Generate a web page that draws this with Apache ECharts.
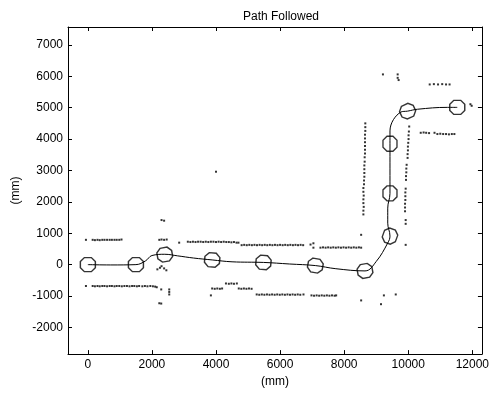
<!DOCTYPE html>
<html>
<head>
<meta charset="utf-8">
<script src="https://cdn.jsdelivr.net/npm/echarts@6/dist/echarts.min.js"></script>
<style>
html, body { margin: 0; padding: 0; background: #fff; }
#chart { width: 492px; height: 393px; }
</style>
</head>
<body>
<div id="chart"></div>
<script>
// tick labels
var xTicks = [0, 2000, 4000, 6000, 8000, 10000, 12000];
var yTicks = [-2000, -1000, 0, 1000, 2000, 3000, 4000, 5000, 6000, 7000];

// path followed (x, y in mm)
var pathLine = [
    [0, 0], [700, -10], [1500, 0], [1800, 120], [2000, 290], [2400, 330], [2800, 280],
    [3300, 210], [3880, 150], [4500, 90], [5480, 70], [6300, 20], [7100, -30],
    [7740, -130], [8650, -200], [9000, 100], [9360, 690], [9430, 910], [9360, 1320],
    [9360, 1800], [9430, 2270], [9430, 3050], [9430, 3850], [9430, 4260], [9770, 4860],
    [9980, 4890], [10290, 4950], [11220, 5010], [11530, 5010]
];

// robot poses: x, y, heading (deg)
var robots = [
    [0, 0, 0], [1500, 0, 0], [2400, 320, 10], [3880, 150, -5], [5480, 70, -5],
    [7100, -30, -10], [8650, -200, 10], [9430, 910, 70], [9430, 2270, 90],
    [9430, 3850, 90], [9980, 4890, 25], [11530, 5010, 0]
];

// sensor readings
var wallTop = [
    [-60, 790], [150, 790], [220, 780], [300, 790], [370, 780], [450, 790], [520, 790],
    [600, 790], [680, 790], [750, 790], [830, 790], [900, 790], [980, 790], [1050, 800],
    [2230, 790], [2300, 800], [2380, 790], [2460, 800], [2300, 1420], [2380, 1400],
    [2850, 700],
    [3120, 730], [3200, 720], [3280, 730], [3360, 720], [3440, 730], [3520, 730], [3600, 720],
    [3680, 730], [3760, 720], [3840, 730], [3920, 730], [4000, 720], [4080, 730], [4160, 720],
    [4240, 730], [4320, 720], [4400, 720], [4480, 710], [4560, 720], [4640, 700], [4700, 700],
    [4800, 620], [4880, 630], [4960, 620], [5040, 630], [5120, 620], [5200, 630], [5280, 620],
    [5360, 630], [5440, 620], [5520, 630], [5600, 620], [5680, 630], [5760, 620], [5840, 630],
    [5920, 620], [6000, 630], [6080, 620], [6160, 630], [6240, 620], [6320, 630], [6400, 620],
    [6480, 630], [6560, 620], [6640, 630], [6720, 620],
    [6950, 640], [7040, 540], [7040, 680],
    [7260, 540], [7340, 550], [7420, 540], [7500, 550], [7580, 540], [7660, 550], [7740, 540],
    [7820, 550], [7900, 540], [7980, 550], [8060, 540], [8140, 550], [8220, 540], [8300, 550],
    [8380, 540], [8460, 550], [8530, 540], [8530, 950]
];

var wallBottom = [
    [-60, -680], [150, -680], [220, -690], [300, -680], [370, -690], [450, -680], [520, -680],
    [600, -690], [680, -680], [750, -680], [830, -690], [900, -680], [980, -680], [1060, -690],
    [1140, -680], [1220, -680], [1300, -690], [1380, -680], [1450, -680], [1530, -690],
    [1600, -680], [1700, -690], [1780, -680], [1860, -690], [1950, -680], [2030, -690],
    [2100, -700], [2150, -720],
    [2290, -790], [2540, -790], [2540, -870], [2540, -950], [2230, -1230], [2290, -1240],
    [2170, -150], [2250, -100], [2300, -50], [2380, -120], [2450, -180],
    [3840, -980], [3880, -760], [3960, -770], [4040, -760], [4120, -770], [4190, -760],
    [4310, -600], [4400, -610], [4480, -600], [4560, -610], [4650, -600],
    [4710, -760], [4790, -770], [4870, -760], [4950, -770], [5030, -760], [5110, -770],
    [5270, -950], [5350, -960], [5430, -950], [5510, -960], [5590, -950], [5670, -960],
    [5750, -950], [5830, -960], [5910, -950], [5990, -960], [6070, -950], [6150, -960],
    [6230, -950], [6310, -960], [6390, -950], [6470, -960], [6550, -950], [6630, -960],
    [6730, -950],
    [6980, -980], [7060, -990], [7140, -980], [7220, -990], [7300, -980], [7380, -990],
    [7460, -980], [7540, -990], [7620, -980], [7700, -990], [7750, -980],
    [8530, -1140], [9150, -1260], [9240, -980], [9610, -950], [4000, 2960]
];

var wallVertical = [
    [8600, 1600], [8600, 1720], [8610, 1840], [8600, 1960], [8600, 2080], [8610, 2200],
    [8600, 2320], [8600, 2440], [8620, 2560], [8620, 2680], [8630, 2800], [8630, 2920],
    [8630, 3040], [8630, 3160], [8640, 3280], [8640, 3420], [8650, 3540], [8650, 3660],
    [8650, 3780], [8650, 3900], [8650, 4020], [8650, 4140], [8660, 4260], [8660, 4380],
    [8660, 4500],
    [9900, 1700], [9900, 1820], [9900, 1940], [9910, 2060], [9910, 2180], [9910, 2300],
    [9920, 2420], [9930, 2700], [9930, 2820], [9940, 2940], [9940, 3060], [9950, 3180],
    [9980, 3400], [9980, 3520], [9990, 3640], [9990, 3760], [10000, 3880], [10010, 4000],
    [10010, 4120], [10020, 4240], [10030, 4400], [9920, 1420], [9920, 1300], [9920, 630],
    [10390, 4200], [10480, 4210], [10560, 4200], [10650, 4190], [10820, 4200],
    [10910, 4160], [11000, 4170], [11090, 4160], [11180, 4160], [11270, 4150], [11360, 4160],
    [11440, 4160],
    [10670, 5740], [10800, 5750], [10930, 5740], [11060, 5750], [11180, 5740], [11290, 5740],
    [9210, 6060], [9670, 6060], [9670, 5950], [9700, 5880], [11940, 5110], [11980, 5060]
];

var robotShape = 'path://M4,0 L11,0 L15,4 L15,10 L11,14 L4,14 L0,10 L0,4 Z';

var chart = echarts.init(document.getElementById('chart'));

var tickStyle = { inside: true, length: 4, lineStyle: { color: '#000', width: 1 } };
var lineStyle = { onZero: false, lineStyle: { color: '#000', width: 1 } };
var labelFont = { color: '#000', fontSize: 12, fontFamily: 'Liberation Sans, Arial, sans-serif' };

var option = {
    backgroundColor: '#fff',
    animation: false,
    title: {
        text: 'Path Followed',
        left: 276,
        top: 6,
        textAlign: 'center',
        textStyle: { fontSize: 12, fontWeight: 'normal', color: '#000', fontFamily: 'Liberation Sans, Arial, sans-serif' }
    },
    grid: { left: 68, right: 7, top: 27, bottom: 36 },
    xAxis: [{
        type: 'value', min: -620, max: 12300, position: 'bottom',
        name: '(mm)', nameLocation: 'middle', nameGap: 19,
        nameTextStyle: labelFont,
        axisLine: lineStyle,
        axisTick: Object.assign({ customValues: xTicks }, tickStyle),
        axisLabel: Object.assign({ customValues: xTicks, margin: 5, formatter: function (v) { return String(v); } }, labelFont),
        splitLine: { show: false }
    }, {
        type: 'value', min: -620, max: 12300, position: 'top',
        axisLine: lineStyle,
        axisTick: Object.assign({ customValues: xTicks }, tickStyle),
        axisLabel: { show: false },
        splitLine: { show: false }
    }],
    yAxis: [{
        type: 'value', min: -2850, max: 7570, position: 'left',
        name: '(mm)', nameLocation: 'middle', nameGap: 40,
        nameTextStyle: labelFont,
        axisLine: lineStyle,
        axisTick: Object.assign({ customValues: yTicks }, tickStyle),
        axisLabel: Object.assign({ customValues: yTicks, margin: 5, formatter: function (v) { return String(v); } }, labelFont),
        splitLine: { show: false }
    }, {
        type: 'value', min: -2850, max: 7570, position: 'right',
        axisLine: lineStyle,
        axisTick: Object.assign({ customValues: yTicks }, tickStyle),
        axisLabel: { show: false },
        splitLine: { show: false }
    }],
    series: [
        {
            type: 'scatter', data: wallTop, symbol: 'rect', symbolSize: 2,
            itemStyle: { color: '#000' }
        },
        {
            type: 'scatter', data: wallBottom, symbol: 'rect', symbolSize: 2,
            itemStyle: { color: '#000' }
        },
        {
            type: 'scatter', data: wallVertical, symbol: 'rect', symbolSize: 2,
            itemStyle: { color: '#000' }
        },
        {
            type: 'line', data: pathLine, smooth: 0.4, showSymbol: false, z: 3,
            lineStyle: { color: '#000', width: 1 }
        },
        {
            type: 'scatter', data: robots, symbol: robotShape, symbolSize: [15, 14], z: 2,
            symbolRotate: function (v) { return v[2]; },
            itemStyle: { color: 'rgba(255,255,255,0)', borderColor: '#000', borderWidth: 1.4 }
        }
    ]
};
chart.setOption(option);
</script>
</body>
</html>
